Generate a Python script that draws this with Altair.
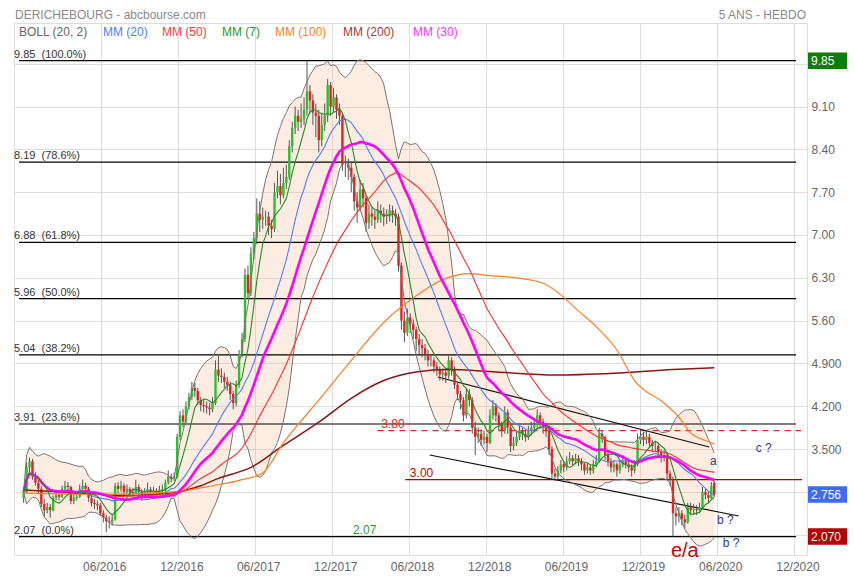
import altair as alt
import pandas as pd
import numpy as np

FONT = "Liberation Sans"

# ---------------- data (weekly candles) ----------------
start_week = "2015-11-30"
opens = [
    2.70, 2.80, 3.20, 3.30, 3.05, 2.95, 2.85, 2.60, 2.50, 2.55,
    2.50, 2.70, 2.75, 2.72, 2.85, 2.90, 2.88, 2.65, 2.70, 2.72,
    2.85, 2.90, 2.85, 2.70, 2.62, 2.60, 2.58, 2.45, 2.38, 2.32,
    2.30, 2.35, 2.90, 2.85, 2.90, 2.80, 2.85, 2.80, 2.78, 2.88,
    2.80, 2.76, 2.80, 2.84, 2.80, 2.82, 2.80, 2.84, 2.82, 2.95,
    3.05, 3.02, 3.05, 3.70, 4.05, 3.95, 4.20, 4.35, 4.50, 4.45,
    4.30, 4.22, 4.20, 4.18, 4.15, 4.25, 4.80, 4.70, 4.68, 4.60,
    4.55, 4.40, 4.25, 4.55, 5.05, 5.30, 6.35, 6.05, 6.70, 6.95,
    7.35, 7.25, 7.30, 7.30, 7.15, 7.10, 7.70, 7.80, 7.65, 7.85,
    7.95, 8.45, 8.75, 8.95, 8.85, 8.90, 9.05, 9.35, 9.20, 9.00,
    8.95, 8.55, 8.80, 8.95, 9.45, 9.10, 9.25, 9.05, 8.95, 8.15,
    8.15, 8.10, 7.95, 7.55, 7.45, 7.75, 7.60, 7.20, 7.35, 7.30,
    7.25, 7.40, 7.35, 7.30, 7.30, 7.40, 7.35, 7.30, 6.50, 5.60,
    5.40, 5.65, 5.55, 5.45, 5.30, 5.20, 5.15, 5.05, 4.95, 4.95,
    4.85, 4.80, 4.72, 4.75, 4.70, 4.95, 4.80, 4.55, 4.40, 4.30,
    4.05, 4.40, 4.30, 3.85, 3.70, 3.75, 3.65, 3.70, 3.60, 4.05,
    4.20, 4.05, 3.90, 3.80, 4.10, 3.85, 3.55, 3.60, 3.70, 3.80,
    3.75, 3.70, 3.80, 3.85, 3.90, 4.05, 3.95, 3.85, 3.80, 3.50,
    3.10, 3.05, 3.15, 3.25, 3.20, 3.30, 3.35, 3.30, 3.35, 3.30,
    3.25, 3.15, 3.20, 3.15, 3.25, 3.30, 3.75, 3.70, 3.40, 3.30,
    3.20, 3.25, 3.15, 3.25, 3.30, 3.25, 3.20, 3.15, 3.25, 3.65,
    3.70, 3.65, 3.70, 3.60, 3.55, 3.55, 3.45, 3.35, 3.40, 3.10,
    3.00, 2.45, 2.40, 2.45, 2.35, 2.30, 2.55, 2.50, 2.52, 2.50,
    2.55, 2.80, 2.75, 2.70, 2.95,
]
highs = [
    2.88, 3.28, 3.36, 3.34, 3.12, 3.05, 2.90, 2.68, 2.62, 2.60,
    2.74, 2.80, 2.80, 2.90, 2.98, 2.96, 2.90, 2.76, 2.80, 2.92,
    3.00, 2.95, 2.88, 2.75, 2.68, 2.66, 2.62, 2.50, 2.42, 2.40,
    2.42, 2.95, 2.96, 2.98, 2.94, 2.92, 2.88, 2.86, 3.00, 2.92,
    2.84, 2.86, 2.95, 2.88, 2.88, 2.86, 2.90, 2.92, 3.00, 3.15,
    3.10, 3.12, 3.75, 4.12, 4.15, 4.28, 4.42, 4.60, 4.58, 4.50,
    4.35, 4.30, 4.28, 4.25, 4.35, 4.95, 5.05, 4.82, 4.75, 4.68,
    4.60, 4.45, 4.62, 5.12, 5.40, 6.45, 6.50, 6.80, 7.05, 7.60,
    7.55, 7.45, 7.40, 7.38, 7.25, 7.85, 8.05, 8.00, 8.10, 8.15,
    8.55, 8.85, 9.10, 9.05, 9.15, 9.25, 9.85, 9.45, 9.30, 9.15,
    9.05, 9.00, 9.15, 9.55, 9.50, 9.40, 9.30, 9.15, 9.00, 8.30,
    8.25, 8.20, 8.00, 7.70, 7.90, 7.85, 7.65, 7.50, 7.45, 7.40,
    7.55, 7.50, 7.45, 7.42, 7.50, 7.48, 7.42, 7.35, 6.55, 5.75,
    5.80, 5.72, 5.62, 5.50, 5.38, 5.30, 5.22, 5.12, 5.05, 5.00,
    4.92, 4.85, 4.82, 4.80, 5.02, 5.00, 4.85, 4.60, 4.45, 4.35,
    4.50, 4.48, 4.35, 3.95, 3.85, 3.82, 3.80, 3.75, 4.15, 4.30,
    4.25, 4.10, 3.95, 4.20, 4.15, 3.90, 3.70, 3.80, 3.88, 3.85,
    3.82, 3.88, 3.95, 4.00, 4.15, 4.10, 4.00, 3.92, 3.85, 3.55,
    3.18, 3.22, 3.32, 3.30, 3.38, 3.45, 3.40, 3.42, 3.40, 3.35,
    3.28, 3.28, 3.25, 3.32, 3.40, 3.85, 3.80, 3.72, 3.45, 3.35,
    3.32, 3.28, 3.32, 3.38, 3.35, 3.30, 3.25, 3.32, 3.75, 3.82,
    3.78, 3.80, 3.75, 3.65, 3.62, 3.60, 3.50, 3.48, 3.45, 3.15,
    3.05, 2.55, 2.55, 2.50, 2.42, 2.62, 2.62, 2.60, 2.58, 2.62,
    2.88, 2.85, 2.80, 2.96, 2.98,
]
lows = [
    2.62, 2.78, 3.12, 3.00, 2.90, 2.78, 2.55, 2.40, 2.45, 2.38,
    2.48, 2.66, 2.66, 2.70, 2.82, 2.80, 2.60, 2.60, 2.66, 2.70,
    2.82, 2.80, 2.64, 2.56, 2.52, 2.50, 2.40, 2.30, 2.14, 2.20,
    2.25, 2.33, 2.78, 2.80, 2.74, 2.76, 2.72, 2.72, 2.76, 2.74,
    2.66, 2.72, 2.76, 2.74, 2.76, 2.74, 2.76, 2.74, 2.80, 2.92,
    2.96, 2.98, 3.02, 3.65, 3.85, 3.92, 4.15, 4.30, 4.35, 4.22,
    4.12, 4.10, 4.08, 4.05, 4.10, 4.22, 4.60, 4.58, 4.50, 4.45,
    4.30, 4.15, 4.20, 4.50, 5.00, 5.25, 5.95, 6.00, 6.60, 6.85,
    7.05, 7.10, 7.15, 7.00, 6.95, 7.05, 7.60, 7.50, 7.60, 7.75,
    7.90, 8.35, 8.65, 8.70, 8.75, 8.80, 8.95, 9.00, 8.80, 8.60,
    8.35, 8.45, 8.70, 8.85, 8.95, 9.00, 8.90, 8.80, 8.05, 7.95,
    7.90, 7.70, 7.40, 7.20, 7.40, 7.45, 7.05, 7.10, 7.15, 7.10,
    7.20, 7.20, 7.15, 7.18, 7.22, 7.20, 7.15, 6.40, 5.45, 5.25,
    5.35, 5.40, 5.30, 5.10, 5.05, 5.00, 4.95, 4.85, 4.85, 4.75,
    4.70, 4.62, 4.62, 4.58, 4.65, 4.70, 4.48, 4.30, 4.15, 3.95,
    4.00, 4.20, 3.75, 3.40, 3.60, 3.55, 3.58, 3.45, 3.58, 3.98,
    3.95, 3.80, 3.70, 3.75, 3.75, 3.45, 3.48, 3.55, 3.65, 3.65,
    3.62, 3.65, 3.72, 3.78, 3.85, 3.85, 3.75, 3.70, 3.40, 3.02,
    2.98, 3.00, 3.10, 3.12, 3.15, 3.25, 3.22, 3.25, 3.22, 3.15,
    3.08, 3.10, 3.08, 3.10, 3.20, 3.28, 3.60, 3.32, 3.22, 3.12,
    3.12, 3.05, 3.10, 3.20, 3.18, 3.12, 3.05, 3.10, 3.22, 3.58,
    3.55, 3.58, 3.52, 3.45, 3.45, 3.38, 3.28, 3.30, 3.00, 2.90,
    2.07, 2.25, 2.30, 2.25, 2.20, 2.28, 2.42, 2.42, 2.42, 2.45,
    2.52, 2.68, 2.62, 2.68, 2.72,
]
closes = [
    2.80, 3.20, 3.30, 3.05, 2.95, 2.85, 2.60, 2.50, 2.55, 2.50,
    2.70, 2.75, 2.72, 2.85, 2.90, 2.88, 2.65, 2.70, 2.72, 2.85,
    2.90, 2.85, 2.70, 2.62, 2.60, 2.58, 2.45, 2.38, 2.32, 2.30,
    2.35, 2.90, 2.85, 2.90, 2.80, 2.85, 2.80, 2.78, 2.88, 2.80,
    2.76, 2.80, 2.84, 2.80, 2.82, 2.80, 2.84, 2.82, 2.95, 3.05,
    3.02, 3.05, 3.70, 4.05, 3.95, 4.20, 4.35, 4.50, 4.45, 4.30,
    4.22, 4.20, 4.18, 4.15, 4.25, 4.80, 4.70, 4.68, 4.60, 4.55,
    4.40, 4.25, 4.55, 5.05, 5.30, 6.35, 6.05, 6.70, 6.95, 7.35,
    7.25, 7.30, 7.30, 7.15, 7.10, 7.70, 7.80, 7.65, 7.85, 7.95,
    8.45, 8.75, 8.95, 8.85, 8.90, 9.05, 9.35, 9.20, 9.00, 8.95,
    8.55, 8.80, 8.95, 9.45, 9.10, 9.25, 9.05, 8.95, 8.15, 8.15,
    8.10, 7.95, 7.55, 7.45, 7.75, 7.60, 7.20, 7.35, 7.30, 7.25,
    7.40, 7.35, 7.30, 7.30, 7.40, 7.35, 7.30, 6.50, 5.60, 5.40,
    5.65, 5.55, 5.45, 5.30, 5.20, 5.15, 5.05, 4.95, 4.95, 4.85,
    4.80, 4.72, 4.75, 4.70, 4.95, 4.80, 4.55, 4.40, 4.30, 4.05,
    4.40, 4.30, 3.85, 3.70, 3.75, 3.65, 3.70, 3.60, 4.05, 4.20,
    4.05, 3.90, 3.80, 4.10, 3.85, 3.55, 3.60, 3.70, 3.80, 3.75,
    3.70, 3.80, 3.85, 3.90, 4.05, 3.95, 3.85, 3.80, 3.50, 3.10,
    3.05, 3.15, 3.25, 3.20, 3.30, 3.35, 3.30, 3.35, 3.30, 3.25,
    3.15, 3.20, 3.15, 3.25, 3.30, 3.75, 3.70, 3.40, 3.30, 3.20,
    3.25, 3.15, 3.25, 3.30, 3.25, 3.20, 3.15, 3.25, 3.65, 3.70,
    3.65, 3.70, 3.60, 3.55, 3.55, 3.45, 3.35, 3.40, 3.10, 3.00,
    2.45, 2.40, 2.45, 2.35, 2.30, 2.55, 2.50, 2.52, 2.50, 2.55,
    2.80, 2.75, 2.70, 2.90, 2.756,
]

# long moving averages (week index, value)
mm100_idx = [0, 27, 51, 64, 74, 81, 88, 100, 111, 122, 132, 143, 151, 157,
             167, 176, 183, 187, 194, 201, 207, 217, 222, 226, 231, 234]
mm100_val = [2.78, 2.76, 2.80, 2.90, 3.00, 3.11, 3.60, 4.30, 4.95, 5.57, 5.97,
             6.29, 6.37, 6.34, 6.30, 6.21, 5.98, 5.80, 5.50, 5.12, 4.62, 4.25,
             4.02, 3.76, 3.64, 3.58]
mm200_idx = [0, 16, 38, 50, 60, 66, 77, 88, 100, 111, 122, 133, 144, 160,
             180, 200, 220, 234]
mm200_val = [2.83, 2.79, 2.74, 2.78, 2.90, 3.02, 3.20, 3.56, 3.94, 4.33, 4.62,
             4.76, 4.80, 4.76, 4.71, 4.74, 4.80, 4.83]

# Fibonacci retracement levels
fib_vals = [9.85, 8.19, 6.88, 5.96, 5.04, 3.91, 2.07]
fib_pcts = ["100.0%", "78.6%", "61.8%", "50.0%", "38.2%", "23.6%", "0.0%"]

# drawn channel lines
trend_d1 = ["2018-08-08", "2018-07-20"]
trend_v1 = [4.678, 3.403]
trend_d2 = ["2020-05-13", "2020-07-22"]
trend_v2 = [3.534, 2.406]

# axis ticks
x_domain = ["2015-11-19", "2020-12-19"]
x_ticks = ["2016-06-01", "2016-12-01", "2017-06-01", "2017-12-01", "2018-06-01",
           "2018-12-01", "2019-06-01", "2019-12-01", "2020-06-01", "2020-12-01"]
y_domain = [1.768, 10.466]
y_ticks = [2.1, 2.8, 3.5, 4.2, 4.9, 5.6, 6.3, 7.0, 7.7, 8.4, 9.1, 9.8]

# annotations
ann_text = ["a", "b ?", "b ?", "c ?"]
ann_dates = ["2020-05-23", "2020-06-20", "2020-07-04", "2020-09-19"]
ann_vals = [3.305, 2.34, 1.964, 3.517]

box_vals = [9.85, 2.756, 2.07]
box_labels = ["9.85", "2.756", "2.070"]
box_colors = ["#0a7d0a", "#3d6bff", "#b30000"]

legend_items = ["BOLL (20, 2)", "MM (20)", "MM (50)", "MM (7)", "MM (100)", "MM (200)", "MM (30)"]
legend_colors = ["#666666", "#4f7dff", "#ff3b3b", "#2a962a", "#ff7f27", "#a33a3a", "#ff33ff"]

# ---------------- frames ----------------
n = len(closes)
dates = pd.date_range(start_week, periods=n, freq="7D").strftime("%Y-%m-%d").tolist()
df = pd.DataFrame({"date": dates, "open": opens, "high": highs, "low": lows, "close": closes})
df["dir"] = np.where(df["close"] >= df["open"], "up", "down")
s = df["close"]
df["ma7"] = s.rolling(7, min_periods=1).mean()
df["ma20"] = s.rolling(20, min_periods=1).mean()
df["ma30"] = s.rolling(30, min_periods=1).mean()
df["ma50"] = s.rolling(50, min_periods=1).mean()
sd = s.rolling(20, min_periods=1).std(ddof=0)
df["bb_up"] = df["ma20"] + 2 * sd
df["bb_lo"] = df["ma20"] - 2 * sd

mm100_df = pd.DataFrame({"date": [dates[i] for i in mm100_idx], "v": mm100_val})
mm200_df = pd.DataFrame({"date": [dates[i] for i in mm200_idx], "v": mm200_val})


def ms(d):
    return int(pd.Timestamp(d).value // 10**6)


xscale = alt.Scale(domain=[ms(d) for d in x_domain])
yscale = alt.Scale(domain=y_domain, nice=False, zero=False)
xaxis = alt.Axis(values=[ms(d) for d in x_ticks], labelExpr="utcFormat(datum.value, '%m/%Y')",
                 grid=True, gridColor="#dddddd", ticks=False, tickSize=0, domain=False,
                 labelColor="#666666", labelFontSize=12, labelFont=FONT, labelPadding=6,
                 labelOffset=3, labelFlush=False, labelOverlap=False, title=None)
yaxis = alt.Axis(orient="right", values=y_ticks,
                 labelExpr="datum.value > 5 ? format(datum.value, '.2f') : format(datum.value, '.3f')",
                 grid=True, gridColor="#dddddd", ticks=False, tickSize=0, domain=False,
                 labelColor="#666666", labelFontSize=12, labelFont=FONT, labelPadding=4,
                 labelFlush=False, labelOverlap=False, title=None)


def X(field="date"):
    return alt.X(f"{field}:T", scale=xscale, axis=xaxis)


def Y(field):
    return alt.Y(f"{field}:Q", scale=yscale, axis=yaxis)


base = alt.Chart(df)

band = base.mark_area(color="#f6b48a", opacity=0.25).encode(x=X(), y=Y("bb_lo"), y2="bb_up:Q")
band_up = base.mark_line(color="#7a7470", strokeWidth=1).encode(x=X(), y=Y("bb_up"))
band_lo = base.mark_line(color="#7a7470", strokeWidth=1).encode(x=X(), y=Y("bb_lo"))

fib_df = pd.DataFrame({
    "v": fib_vals,
    "label": [f"{v:.2f}\u00a0 ({p})" for v, p in zip(fib_vals, fib_pcts)],
    "d1": x_domain[0], "d2": "2020-12-05",
})
fib_lines = alt.Chart(fib_df).mark_rule(color="#000000", strokeWidth=1.2).encode(
    x=X("d1"), x2="d2:T", y=Y("v"))
fib_text = alt.Chart(fib_df).mark_text(align="left", baseline="alphabetic", dy=-3,
                                       fontSize=11, font=FONT, color="#333333").encode(
    x=alt.value(0), y=Y("v"), text="label:N")

lvl_df = pd.DataFrame({"v": [3.80], "d1": ["2018-03-18"], "d2": ["2020-12-17"]})
lvl380 = alt.Chart(lvl_df).mark_rule(color="#ee2222", strokeWidth=1.2, strokeDash=[6, 5]).encode(
    x=X("d1"), x2="d2:T", y=Y("v"))
lvl300_df = pd.DataFrame({"v": [3.00], "d1": ["2018-05-23"], "d2": ["2020-12-19"]})
lvl300 = alt.Chart(lvl300_df).mark_rule(color="#a30000", strokeWidth=1.2).encode(
    x=X("d1"), x2="d2:T", y=Y("v"))

lvl_lab_df = pd.DataFrame({"t": ["3.80", "3.00", "2.07"],
                           "d": ["2018-03-27", "2018-06-03", "2018-01-19"],
                           "v": [3.80, 3.00, 2.07],
                           "c": ["#ee2222", "#cc0000", "#2f9a2f"]})
lvl_labels = alt.Chart(lvl_lab_df).mark_text(align="left", baseline="alphabetic", dy=-3,
                                             fontSize=12, font=FONT).encode(
    x=X("d"), y=Y("v"), text="t:N", color=alt.Color("c:N", scale=None))

trend_df = pd.DataFrame({"d1": trend_d1, "v1": trend_v1, "d2": trend_d2, "v2": trend_v2})
trend = alt.Chart(trend_df).mark_rule(color="#111111", strokeWidth=1.2).encode(
    x=X("d1"), y=Y("v1"), x2="d2:T", y2="v2:Q")

wicks = base.mark_rule(color="#555555", strokeWidth=1).encode(x=X(), y=Y("low"), y2="high:Q")
bodies = base.mark_bar(size=2.4).encode(
    x=X(), y=Y("open"), y2="close:Q",
    color=alt.Color("dir:N", scale=alt.Scale(domain=["up", "down"], range=["#2cc02c", "#e02222"]),
                    legend=None))


def ma_line(field, color, width):
    return base.mark_line(color=color, strokeWidth=width).encode(x=X(), y=Y(field))


mm100 = alt.Chart(mm100_df).mark_line(color="#ff7f27", strokeWidth=1.2, interpolate="monotone").encode(
    x=X(), y=Y("v"))
mm200 = alt.Chart(mm200_df).mark_line(color="#8b1414", strokeWidth=1.5, interpolate="monotone").encode(
    x=X(), y=Y("v"))
mm50 = ma_line("ma50", "#ff2d2d", 1.1)
mm20 = ma_line("ma20", "#4f7dff", 1.1)
mm30 = ma_line("ma30", "#ff00ff", 2.6)
mm7 = ma_line("ma7", "#238c23", 1.1)

ann_df = pd.DataFrame({"t": ann_text, "d": ann_dates, "v": ann_vals})
ann = alt.Chart(ann_df).mark_text(fontSize=12, font=FONT, color="#333399").encode(
    x=X("d"), y=Y("v"), text="t:N")
ea_df = pd.DataFrame({"t": ["e/a"], "d": ["2020-03-16"], "v": [1.834]})
ea = alt.Chart(ea_df).mark_text(fontSize=20, font=FONT, color="#cc0000").encode(
    x=X("d"), y=Y("v"), text="t:N")

box_df = pd.DataFrame({"v": box_vals, "t": box_labels, "c": box_colors})
boxes = alt.Chart(box_df).transform_calculate(lo="datum.v - 0.135", hi="datum.v + 0.135").mark_rect().encode(
    x=alt.value(794), x2=alt.value(833), y=Y("lo"), y2="hi:Q", color=alt.Color("c:N", scale=None))
box_text = alt.Chart(box_df).mark_text(align="left", baseline="middle", fontSize=12, font=FONT,
                                       color="#ffffff").encode(
    x=alt.value(797), y=Y("v"), text="t:N")

legend_x = [5, 89, 148, 208, 261, 329, 399]
legend_layers = []
for txt, col, px in zip(legend_items, legend_colors, legend_x):
    legend_layers.append(
        alt.Chart(pd.DataFrame({"t": [txt]})).mark_text(
            align="left", baseline="middle", fontSize=12, font=FONT, color=col).encode(
            x=alt.value(px), y=alt.value(9), text="t:N"))

title_l = alt.Chart(pd.DataFrame({"t": ["DERICHEBOURG - abcbourse.com"]})).mark_text(
    align="left", baseline="middle", fontSize=12, font=FONT, color="#8a8a8a").encode(
    x=alt.value(1), y=alt.value(-8), text="t:N")
title_r = alt.Chart(pd.DataFrame({"t": ["5 ANS - HEBDO"]})).mark_text(
    align="right", baseline="middle", fontSize=12, font=FONT, color="#8a8a8a").encode(
    x=alt.value(792), y=alt.value(-8), text="t:N")

chart = alt.layer(
    band, fib_lines, lvl380, lvl300, trend, wicks, bodies,
    band_up, band_lo, mm200, mm100, mm50, mm20, mm30, mm7,
    fib_text, lvl_labels, ann, ea, boxes, box_text, *legend_layers, title_l, title_r,
).properties(
    width=793, height=532,
    autosize=alt.AutoSizeParams(type="none"),
    padding={"left": 6, "top": 15, "right": 40, "bottom": 17},
).configure_view(stroke="#dddddd", strokeWidth=1).configure(background="#ffffff")

chart.save("out.html", embed_options={"renderer": "svg", "actions": False})
